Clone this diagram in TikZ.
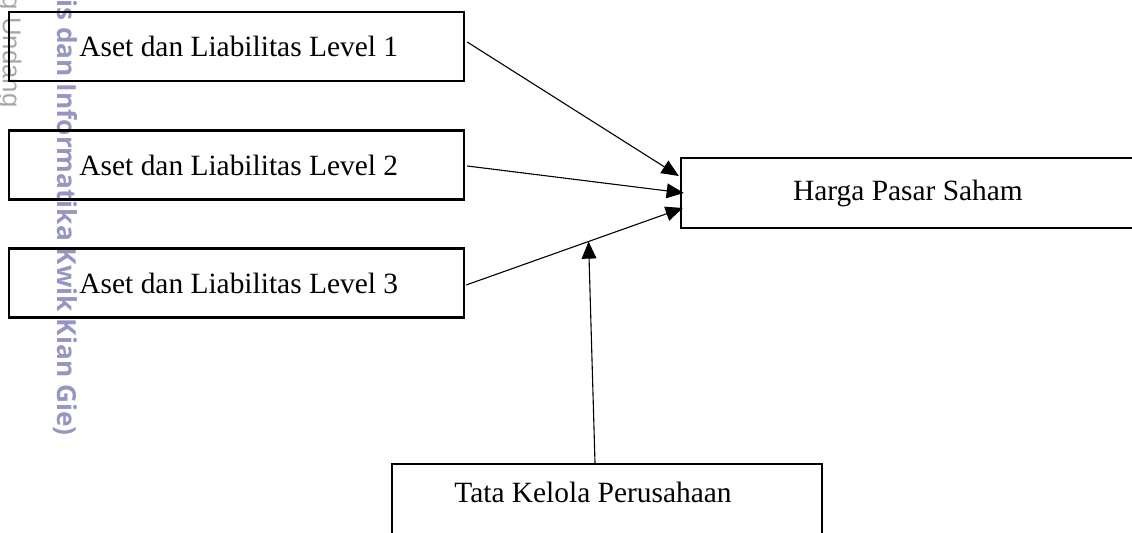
\documentclass[tikz,border=0pt]{standalone}
\usepackage{fontspec}
\setmainfont{Liberation Serif}
\newfontfamily\wmfont{Open Sans}
\newfontfamily\wmthin{Liberation Sans}
\usetikzlibrary{arrows.meta,calc}
\definecolor{wmlila}{RGB}{150,150,195}

\begin{document}
\begin{tikzpicture}[x=0.408pt, y=-0.408pt,
	kotak/.style={draw, line width=1pt, inner sep=0pt, minimum width=185.6pt, minimum height=28.2pt},
	panah/.style={-{Triangle[length=7pt,width=6pt]}, line width=0.45pt},
	font=\fontsize{12pt}{14pt}\selectfont]
	\useasboundingbox (0,0) rectangle (1132,533);
	\clip (0,0) rectangle (1132,533);
	% watermark
	\node[rotate=-90, anchor=base east, inner sep=0pt, text=gray!70, font=\wmthin\fontsize{10.5pt}{12pt}\selectfont] (wm1) at (3,108) {g Undang};
	\node[rotate=-90, anchor=base east, inner sep=0pt, text=wmlila, font=\wmfont\bfseries\fontsize{10.7pt}{13pt}\selectfont] (wm2) at (57,436) {is dan Informatika Kwik Kian Gie)};
	% boxes
	\foreach \i/\y in {1/46.5, 2/165, 3/283} {
		\node[kotak] (lv\i) at (236.5,\y) {};
		\node[anchor=west, inner sep=0pt] (tl\i) at (79,\y) {Aset dan Liabilitas Level \i};
	}
	\node[kotak, minimum width=185.2pt, minimum height=28.6pt] (harga) at (908,193) {Harga Pasar Saham};
	\node[kotak, minimum width=175.4pt, minimum height=31pt] (tata) at (607,502) {};
	\node[inner sep=0pt] (ttata) at (593,492) {Tata Kelola Perusahaan};
	% arrows
	\draw[panah] ($(lv1.east)+(2,-4.5)$) -- ($(harga.west)+(-1,-17)$);
	\draw[panah] ($(lv2.east)+(2,1)$) -- ($(harga.west)+(4,0)$);
	\draw[panah] ($(lv3.east)+(1,2)$) -- coordinate[pos=0.565] (temu) ($(harga.west)+(3,15)$);
	\draw[panah] ($(tata.north)+(-12,0)$) -- (temu);
\end{tikzpicture}
\end{document}
